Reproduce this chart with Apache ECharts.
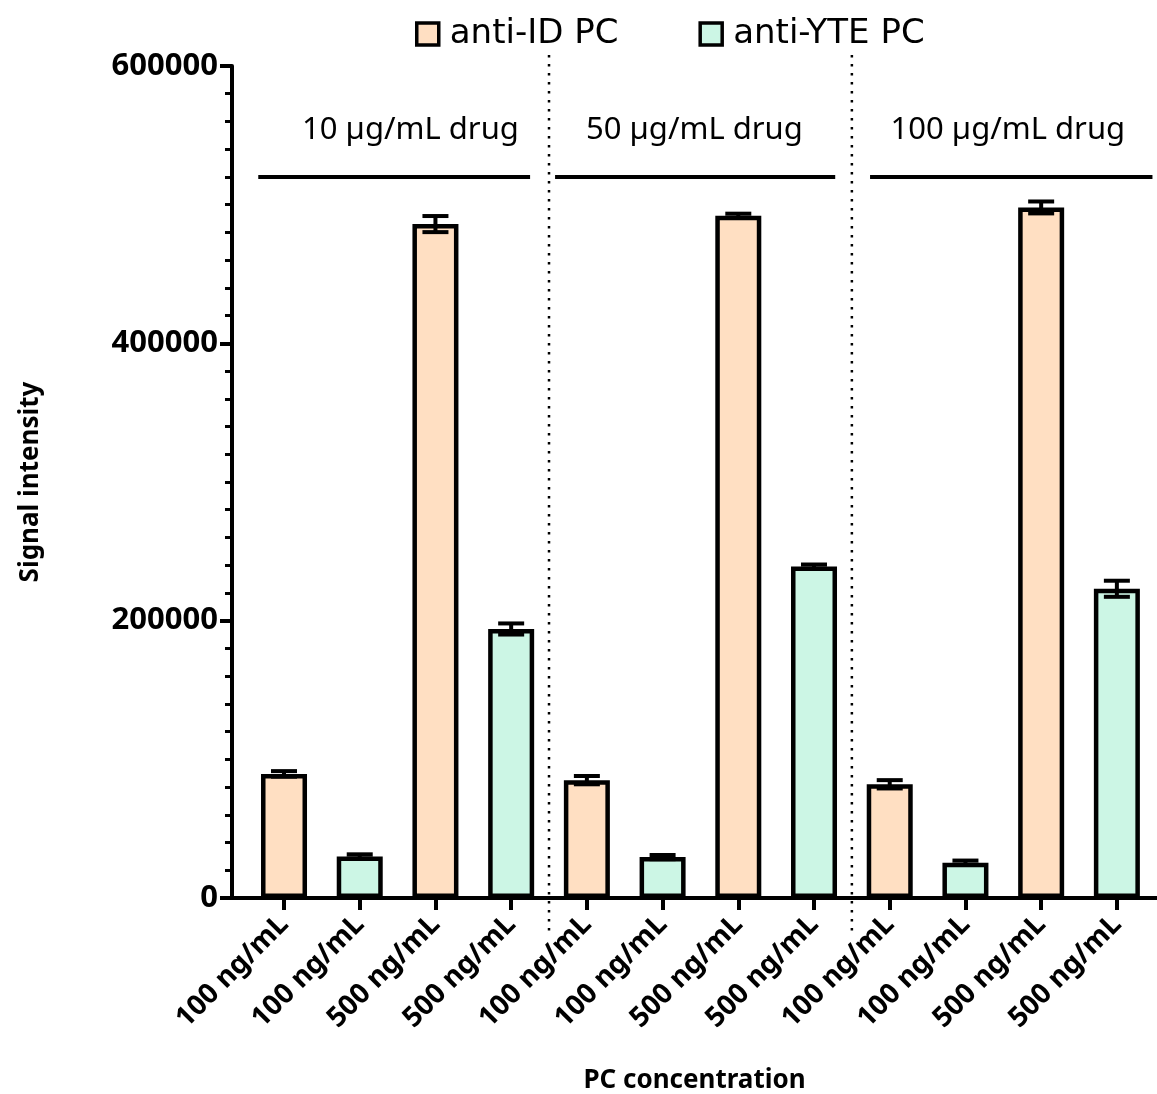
<!DOCTYPE html>
<html>
<head>
<meta charset="utf-8">
<script src="https://cdn.jsdelivr.net/npm/echarts@6/dist/echarts.min.js"></script>
<style>
html,body{margin:0;padding:0;background:#fff;}
#chart{width:1157px;height:1094px;}
</style>
</head>
<body>
<div id="chart"></div>
<script>
// ---------- DATA ----------
const categories = ['100 ng/mL','100 ng/mL','500 ng/mL','500 ng/mL',
                    '100 ng/mL','100 ng/mL','500 ng/mL','500 ng/mL',
                    '100 ng/mL','100 ng/mL','500 ng/mL','500 ng/mL'];
const seriesNames = ['anti-ID PC', 'anti-YTE PC'];
// anti-ID PC sits at categories 0,2,4,6,8,10; anti-YTE PC at 1,3,5,7,9,11
const antiIdMean  = [89500, 486000, 85000, 492000, 82000, 498000];
const antiIdErr   = [2000, 5800, 3000, 1500, 3000, 4300];
const antiYteMean = [30000, 194000, 29500, 239000, 25500, 223000];
const antiYteErr  = [1500, 4000, 1500, 1500, 1500, 5800];
const groupLabels = ['10 µg/mL drug', '50 µg/mL drug', '100 µg/mL drug'];
const xTitle = 'PC concentration';
const yTitle = 'Signal intensity';

// ---------- LAYOUT / STYLE ----------
const colors = ['#FFDFC2', '#CCF6E5'];
const groupSpans = [[-0.34, 3.25], [3.58, 7.28], [7.74, 11.47]];
const groupTextX = [1.67, 5.42, 9.56];
const separators = [3.5, 7.5];

const tickIdx = categories.map((_, i) => i);
const idData = antiIdMean.map((v, k) => [2 * k, v]);
const yteData = antiYteMean.map((v, k) => [2 * k + 1, v]);
const errData = [];
antiIdMean.forEach((v, k) => errData.push([2 * k, v, antiIdErr[k]]));
antiYteMean.forEach((v, k) => errData.push([2 * k + 1, v, antiYteErr[k]]));

const chart = echarts.init(document.getElementById('chart'));
const boldFont = 'Noto Sans';

const option = {
  animation: false,
  backgroundColor: '#fff',
  legend: {
    data: seriesNames,
    left: 410, top: 12,
    itemWidth: 22, itemHeight: 22,
    itemGap: 80,
    icon: 'rect',
    itemStyle: { borderColor: '#000', borderWidth: 3.5 },
    textStyle: { fontFamily: 'DejaVu Sans', fontSize: 34, color: '#000', padding: [0, 0, 0, 6] }
  },
  grid: { left: 232, right: 0, top: 66, bottom: 196, containLabel: false, outerBoundsMode: 'none' },
  xAxis: {
    type: 'value',
    min: -0.687, max: 11.53,
    name: xTitle,
    nameLocation: 'middle',
    nameGap: 170,
    nameTextStyle: { fontFamily: boldFont, fontWeight: 'bold', fontSize: 26, color: '#000' },
    axisLine: { show: true, onZero: false, lineStyle: { color: '#000', width: 4 } },
    axisTick: { show: true, customValues: tickIdx, length: 12, lineStyle: { color: '#000', width: 4 } },
    axisLabel: {
      customValues: tickIdx,
      formatter: v => categories[Math.round(v)],
      rotate: 45, margin: 22,
      fontFamily: boldFont, fontWeight: 'bold', fontSize: 28, color: '#000'
    },
    splitLine: { show: false }
  },
  yAxis: {
    type: 'value',
    min: 0, max: 600000, interval: 200000,
    name: yTitle,
    nameLocation: 'middle',
    nameGap: 188,
    nameTextStyle: { fontFamily: boldFont, fontWeight: 'bold', fontSize: 26, color: '#000' },
    axisLine: { show: true, onZero: false, lineStyle: { color: '#000', width: 4 } },
    axisTick: { show: true, length: 12, lineStyle: { color: '#000', width: 4 } },
    minorTick: { show: true, splitNumber: 10, length: 7, lineStyle: { color: '#000', width: 3 } },
    axisLabel: {
      formatter: v => String(v), margin: 14,
      fontFamily: boldFont, fontWeight: 'bold', fontSize: 31, color: '#000'
    },
    splitLine: { show: false },
    minorSplitLine: { show: false }
  },
  series: [
    {
      name: seriesNames[0], type: 'bar', data: idData,
      barWidth: 46, barGap: '-100%', z: 2,
      itemStyle: { color: colors[0], borderColor: '#000', borderWidth: 4.5 }
    },
    {
      name: seriesNames[1], type: 'bar', data: yteData,
      barWidth: 46, barGap: '-100%', z: 2,
      itemStyle: { color: colors[1], borderColor: '#000', borderWidth: 4.5 }
    },
    {
      name: 'error', type: 'custom', data: errData, z: 5,
      encode: { x: 0, y: 1 },
      renderItem: (params, api) => {
        const x = api.value(0), m = api.value(1), e = api.value(2);
        const hi = api.coord([x, m + e]);
        const lo = api.coord([x, m - e]);
        const hw = 13;
        const st = { stroke: '#000', lineWidth: 4 };
        return {
          type: 'group',
          children: [
            { type: 'line', shape: { x1: hi[0], y1: hi[1], x2: lo[0], y2: lo[1] }, style: st },
            { type: 'line', shape: { x1: hi[0] - hw, y1: hi[1], x2: hi[0] + hw, y2: hi[1] }, style: st },
            { type: 'line', shape: { x1: lo[0] - hw, y1: lo[1], x2: lo[0] + hw, y2: lo[1] }, style: st }
          ]
        };
      }
    }
  ]
};
chart.setOption(option);

// decorations placed through the chart's own scales
const px = (x, y) => chart.convertToPixel({ gridIndex: 0 }, [x, y]);
const elements = [];
separators.forEach(s => {
  const a = px(s, 608000), b = px(s, -27000);
  elements.push({
    type: 'line', z: 10,
    shape: { x1: a[0], y1: a[1], x2: b[0], y2: b[1] },
    style: { stroke: '#000', lineWidth: 2.5, lineDash: [2.5, 6.5] }
  });
});
groupLabels.forEach((t, g) => {
  const a = px(groupSpans[g][0], 520000), b = px(groupSpans[g][1], 520000);
  elements.push({
    type: 'line', z: 10,
    shape: { x1: a[0], y1: a[1], x2: b[0], y2: b[1] },
    style: { stroke: '#000', lineWidth: 4 }
  });
  const c = px(groupTextX[g], 554000);
  elements.push({
    type: 'text', z: 10, x: c[0], y: c[1],
    style: { text: t, fill: '#000', fontFamily: 'Noto Sans', fontSize: 31, align: 'center', verticalAlign: 'middle' }
  });
});
chart.setOption({ graphic: { elements } });
</script>
</body>
</html>
